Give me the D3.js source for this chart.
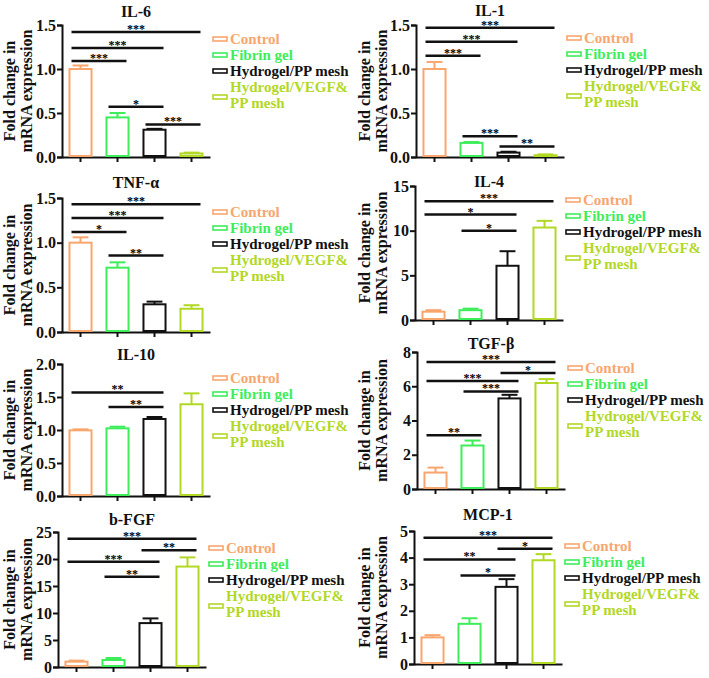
<!DOCTYPE html>
<html>
<head>
<meta charset="utf-8">
<script src="https://cdn.jsdelivr.net/npm/d3@7"></script>
<style>
  body { margin: 0; background: #fff; }
  svg text { font-family: "Liberation Serif", "Times New Roman", serif; font-weight: bold; }
</style>
</head>
<body>
<div id="chart"></div>
<script>
// groups and colours
var groups = ["Control", "Fibrin gel", "Hydrogel/PP mesh", "Hydrogel/VEGF& PP mesh"];
var colors = ["#F8A66E", "#3DEE5A", "#111111", "#B2D826"];

var panelNames = ["IL-6", "IL-1", "TNF-α", "IL-4", "IL-10", "TGF-β", "b-FGF", "MCP-1"];

// means and upper error per panel
var il6Mean = [1.00, 0.45, 0.31, 0.04],  il6Err = [1.04, 0.50, 0.32, 0.05];
var il1Mean = [1.00, 0.16, 0.05, 0.02],  il1Err = [1.08, 0.17, 0.06, 0.03];
var tnfMean = [1.00, 0.72, 0.31, 0.26],  tnfErr = [1.06, 0.78, 0.34, 0.30];
var il4Mean = [0.93, 1.10, 6.07, 10.35], il4Err = [1.10, 1.27, 7.70, 11.10];
var il10Mean = [0.995, 1.025, 1.167, 1.39], il10Err = [1.01, 1.05, 1.197, 1.555];
var tgfMean = [0.96, 2.54, 5.29, 6.19],  tgfErr = [1.25, 2.83, 5.50, 6.42];
var fgfMean = [0.99, 1.30, 8.13, 18.6],  fgfErr = [1.18, 1.67, 9.00, 20.3];
var mcpMean = [1.00, 1.51, 2.90, 3.90],  mcpErr = [1.085, 1.72, 3.19, 4.13];

// y axis max and tick step
var yMax = [1.5, 1.5, 1.5, 15, 2.0, 8, 25, 5];
var yStep = [0.5, 0.5, 0.5, 5, 0.5, 2, 5, 1];
var yFormat = [".1f", ".1f", ".1f", "d", ".1f", "d", "d", "d"];

// significance brackets: [from, to, y, label]
var il6Sig = [[0, 3, 1.42, "***"], [0, 2, 1.24, "***"], [0, 1, 1.09, "***"], [1, 2, 0.57, "*"], [2, 3, 0.37, "***"]];
var il1Sig = [[0, 3, 1.47, "***"], [0, 2, 1.31, "***"], [0, 1, 1.15, "***"], [1, 2, 0.235, "***"], [2, 3, 0.12, "**"]];
var tnfSig = [[0, 3, 1.43, "***"], [0, 2, 1.275, "***"], [0, 1, 1.12, "*"], [1, 2, 0.855, "**"]];
var il4Sig = [[0, 3, 13.3, "***"], [0, 2, 11.8, "*"], [1, 2, 10.0, "*"]];
var il10Sig = [[0, 2, 1.57, "**"], [1, 2, 1.35, "**"]];
var tgfSig = [[0, 3, 7.41, "***"], [2, 3, 6.77, "*"], [0, 2, 6.30, "***"], [1, 2, 5.70, "***"], [0, 1, 3.14, "**"]];
var fgfSig = [[0, 3, 23.76, "***"], [2, 3, 21.6, "**"], [0, 2, 19.5, "***"], [1, 2, 16.7, "**"]];
var mcpSig = [[0, 3, 4.75, "***"], [2, 3, 4.33, "*"], [0, 2, 3.93, "**"], [1, 2, 3.33, "*"]];

var means = [il6Mean, il1Mean, tnfMean, il4Mean, il10Mean, tgfMean, fgfMean, mcpMean];
var errs = [il6Err, il1Err, tnfErr, il4Err, il10Err, tgfErr, fgfErr, mcpErr];
var sigs = [il6Sig, il1Sig, tnfSig, il4Sig, il10Sig, tgfSig, fgfSig, mcpSig];

// panel placement
var layout = [
  {x0: 62,  yT: 25,  yB: 157, titleY: 17,  legY: 44,  labX: 9},
  {x0: 416, yT: 25,  yB: 157, titleY: 16,  legY: 43,  labX: 364},
  {x0: 62,  yT: 198, yB: 332, titleY: 188, legY: 217, labX: 9},
  {x0: 415, yT: 186, yB: 320, titleY: 187, legY: 205, labX: 364},
  {x0: 62,  yT: 364, yB: 496, titleY: 360, legY: 383, labX: 9},
  {x0: 417, yT: 352, yB: 489, titleY: 349, legY: 373, labX: 364},
  {x0: 58,  yT: 532, yB: 667, titleY: 525, legY: 553, labX: 9},
  {x0: 414, yT: 531, yB: 664, titleY: 520, legY: 551, labX: 364}
];
var plotW = 148;

var svg = d3.select("#chart")
  .append("svg")
    .attr("width", 709)
    .attr("height", 678);

panelNames.forEach(function(name, p) {
  var L = layout[p];
  var g = svg.append("g");

  var x = d3.scaleBand()
    .domain(d3.range(groups.length))
    .range([L.x0, L.x0 + plotW])
    .paddingInner(0.35)
    .paddingOuter(0.175);

  var y = d3.scaleLinear()
    .domain([0, yMax[p]])
    .range([L.yB, L.yT]);

  // Y axis
  var ya = g.append("g")
    .attr("transform", "translate(" + L.x0 + ",0)")
    .call(d3.axisLeft(y).tickValues(d3.range(0, yMax[p] + 1e-9, yStep[p]))
      .tickFormat(d3.format(yFormat[p])).tickSize(5).tickPadding(1));
  ya.select(".domain").attr("stroke", "#111").attr("stroke-width", 2);
  ya.selectAll(".tick line").attr("stroke", "#111").attr("stroke-width", 2);
  ya.selectAll("text").attr("fill", "#111").style("font-size", "16px");

  // X axis (ticks only, no labels)
  var xa = g.append("g")
    .attr("transform", "translate(0," + L.yB + ")")
    .call(d3.axisBottom(x).tickSize(5).tickSizeOuter(0).tickFormat(""));
  xa.select(".domain").attr("stroke", "#111").attr("stroke-width", 2);
  xa.selectAll(".tick line").attr("stroke", "#111").attr("stroke-width", 2);

  // Bars
  var bw = x.bandwidth();
  g.selectAll(".bar")
    .data(means[p])
    .enter()
    .append("rect")
      .attr("x", function(d, i) { return x(i) + 1; })
      .attr("y", function(d) { return y(d); })
      .attr("width", bw - 2)
      .attr("height", function(d) { return L.yB - 1 - y(d); })
      .attr("fill", "#fff")
      .attr("stroke", function(d, i) { return colors[i]; })
      .attr("stroke-width", 2);

  // Error bars (upper only)
  errs[p].forEach(function(e, i) {
    var cx = x(i) + bw / 2;
    g.append("line")
      .attr("x1", cx).attr("x2", cx)
      .attr("y1", y(means[p][i])).attr("y2", y(e))
      .attr("stroke", colors[i]).attr("stroke-width", 2);
    g.append("line")
      .attr("x1", cx - bw * 0.33).attr("x2", cx + bw * 0.33)
      .attr("y1", y(e)).attr("y2", y(e))
      .attr("stroke", colors[i]).attr("stroke-width", 2);
  });

  // Significance lines
  sigs[p].forEach(function(s) {
    var xa1 = x(s[0]) + bw / 2 - 9, xa2 = x(s[1]) + bw / 2 + 9;
    g.append("line")
      .attr("x1", xa1).attr("x2", xa2)
      .attr("y1", y(s[2])).attr("y2", y(s[2]))
      .attr("stroke", "#111").attr("stroke-width", 2.5);
    g.append("text")
      .attr("x", (xa1 + xa2) / 2)
      .attr("y", y(s[2]) + 1)
      .attr("text-anchor", "middle")
      .style("font-size", "12px")
      .attr("fill", "#000")
      .text(s[3]);
  });

  // Title
  g.append("text")
    .attr("x", L.x0 + plotW / 2)
    .attr("y", L.titleY)
    .attr("text-anchor", "middle")
    .style("font-size", "16px")
    .attr("fill", "#111")
    .text(name);

  // Y label
  var midY = (L.yT + L.yB) / 2;
  ["Fold change in", "mRNA expression"].forEach(function(t, k) {
    g.append("text")
      .attr("transform", "translate(" + (L.labX + 17 * k + 6) + "," + midY + ")rotate(-90)")
      .attr("text-anchor", "middle")
      .style("font-size", "16px")
      .attr("fill", "#111")
      .text(t);
  });

  // Legend
  var lx = L.x0 + 151;
  var rows = [0, 16, 32, 48];
  groups.forEach(function(gname, i) {
    var by = L.legY + rows[i];
    var lines = i == 3 ? ["Hydrogel/VEGF&", "PP mesh"] : [gname];
    var sy = i == 3 ? by + 5 : by - 5;
    g.append("rect")
      .attr("x", lx).attr("y", sy - 2)
      .attr("width", 14).attr("height", 4)
      .attr("fill", "#fff")
      .attr("stroke", colors[i]).attr("stroke-width", 1.6);
    lines.forEach(function(t, k) {
      g.append("text")
        .attr("x", lx + 17)
        .attr("y", by + 16 * k)
        .style("font-size", "15px")
        .attr("fill", colors[i])
        .text(t);
    });
  });
});
</script>
</body>
</html>
